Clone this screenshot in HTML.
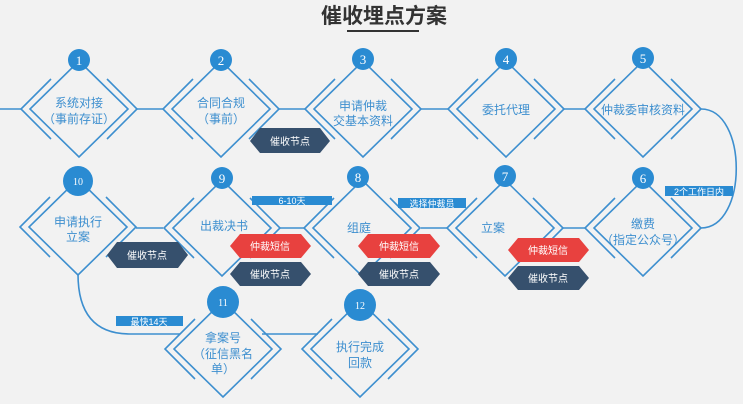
<!DOCTYPE html>
<html><head><meta charset="utf-8"><style>
html,body{margin:0;padding:0;background:#f2f2f2;}
svg{display:block;font-family:"Liberation Sans","Noto Sans CJK SC",sans-serif;}
</style></head><body>
<svg width="743" height="404" viewBox="0 0 743 404" xmlns="http://www.w3.org/2000/svg">
<rect width="743" height="404" fill="#f2f2f2"/>
<defs>
<g id="d" fill="none" stroke="#3d8fcf" stroke-width="1.6">
<polygon points="0,-48 49,0 0,48 -49,0" fill="#f2f2f2"/>
<polyline points="-28,-30 -58,0 -28,30"/>
<polyline points="28,-30 58,0 28,30"/>
</g>
</defs>
<text x="384" y="23" text-anchor="middle" font-size="21" font-weight="bold" fill="#333" font-family="'Noto Sans CJK SC',sans-serif">催收埋点方案</text>
<line x1="347" y1="31" x2="419" y2="31" stroke="#333" stroke-width="2"/>
<g stroke="#3d8fcf" stroke-width="1.6" fill="none">
<path d="M0,109H21 M137,109H163 M279,109H305 M421,109H448 M564,109H585"/>
<path d="M701,109 C748,109 748,228 701,228"/>
<path d="M585,228H563 M447,228H421 M304,228H279 M163,228H136"/>
<path d="M78,274 Q78,334 130,334 L180,334 M262,334 L318,334"/>
</g>
<use href="#d" x="79" y="109"/><use href="#d" x="221" y="109"/><use href="#d" x="363" y="109"/><use href="#d" x="506" y="109"/><use href="#d" x="643" y="109"/>
<use href="#d" x="643" y="228"/><use href="#d" x="505" y="228"/><use href="#d" x="362" y="228"/><use href="#d" x="222" y="228"/><use href="#d" x="78" y="227"/>
<use href="#d" x="223" y="349"/><use href="#d" x="360" y="349"/>
<g fill="#2a8bd2">
<circle cx="79" cy="60" r="11"/><circle cx="221" cy="60" r="11"/><circle cx="363" cy="59" r="11"/><circle cx="506" cy="59" r="11"/><circle cx="643" cy="58" r="11"/>
<circle cx="643" cy="178" r="11"/><circle cx="505" cy="176" r="11"/><circle cx="358" cy="177" r="11"/><circle cx="222" cy="178" r="11"/><circle cx="78" cy="181" r="15"/>
<circle cx="223" cy="302" r="16"/><circle cx="360" cy="305" r="16"/>
</g>
<g fill="#fff" font-size="13" text-anchor="middle" font-family="'Liberation Serif',serif">
<text x="79" y="65">1</text><text x="221" y="65">2</text><text x="363" y="64">3</text><text x="506" y="64">4</text><text x="643" y="63">5</text>
<text x="643" y="183">6</text><text x="505" y="181">7</text><text x="358" y="182">8</text><text x="222" y="183">9</text><text x="78" y="185" font-size="10">10</text>
<text x="223" y="306" font-size="10">11</text><text x="360" y="309" font-size="10">12</text>
</g>
<g fill="#3d8fcf" font-size="12" text-anchor="middle">
<text x="79" y="107">系统对接</text><text x="79" y="123">（事前存证）</text>
<text x="221" y="107">合同合规</text><text x="221" y="123">（事前）</text>
<text x="363" y="110">申请仲裁</text><text x="363" y="125">交基本资料</text>
<text x="506" y="114">委托代理</text>
<text x="643" y="114">仲裁委审核资料</text>
<text x="643" y="228">缴费</text><text x="643" y="244">（指定公众号）</text>
<text x="493" y="232">立案</text>
<text x="359" y="232">组庭</text>
<text x="224" y="230">出裁决书</text>
<text x="78" y="226">申请执行</text><text x="78" y="241">立案</text>
<text x="223" y="342">拿案号</text><text x="223" y="358">（征信黑名</text><text x="223" y="373">单）</text>
<text x="360" y="351">执行完成</text><text x="360" y="367">回款</text>
</g>
<g fill="#2a8bd2">
<rect x="116" y="316" width="67" height="10"/><rect x="252" y="196" width="80" height="9"/><rect x="398" y="198" width="68" height="10"/><rect x="665" y="186" width="68" height="10"/>
</g>
<g fill="#fff" font-size="9" text-anchor="middle">
<text x="149" y="325">最快14天</text><text x="292" y="204">6-10天</text><text x="432" y="207">选择仲裁员</text><text x="699" y="195">2个工作日内</text>
</g>
<g font-size="10" text-anchor="middle" fill="#fff">
<polygon points="250,141 260,128 320,128 330,141 320,153 260,153" fill="#36506d"/><text x="290" y="145">催收节点</text>
<polygon points="107,255 117,242 178,242 188,255 178,268 117,268" fill="#36506d"/><text x="147" y="259">催收节点</text>
<polygon points="230,246 240,234 301,234 311,246 301,258 240,258" fill="#e8413f"/><text x="270" y="250">仲裁短信</text>
<polygon points="230,274 240,262 301,262 311,274 301,286 240,286" fill="#36506d"/><text x="270" y="278">催收节点</text>
<polygon points="358,246 368,234 430,234 440,246 430,258 368,258" fill="#e8413f"/><text x="399" y="250">仲裁短信</text>
<polygon points="358,274 368,262 430,262 440,274 430,286 368,286" fill="#36506d"/><text x="399" y="278">催收节点</text>
<polygon points="508,250 518,238 579,238 589,250 579,262 518,262" fill="#e8413f"/><text x="548" y="254">仲裁短信</text>
<polygon points="508,278 518,266 579,266 589,278 579,290 518,290" fill="#36506d"/><text x="548" y="282">催收节点</text>
</g>
</svg>
</body></html>
